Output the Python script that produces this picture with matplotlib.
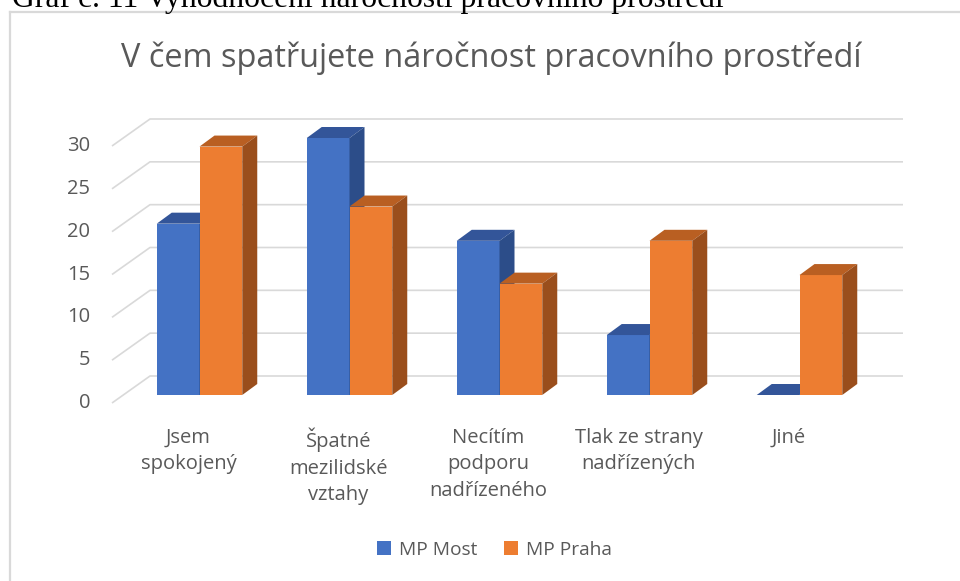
import matplotlib.pyplot as plt
from matplotlib.patches import Polygon
from matplotlib.lines import Line2D

categories = ['Jsem\nspokojený', 'Špatné\nmezilidské\nvztahy', 'Necítím\npodporu\nnadřízeného',
              'Tlak ze strany\nnadřízených', 'Jiné']
mp_most = [20, 30, 18, 7, 0]
mp_praha = [29, 22, 13, 18, 14]
series_names = ['MP Most', 'MP Praha']
yticks = [0, 5, 10, 15, 20, 25, 30]

title = 'V čem spatřujete náročnost pracovního prostředí'
caption = 'Graf č. 11 Vyhodnocení náročnosti pracovního prostředí'

plt.rcParams['font.family'] = ['Open Sans', 'DejaVu Sans']
W, H, DPI = 960, 581, 100
fig = plt.figure(figsize=(W / DPI, H / DPI), dpi=DPI)
ax = fig.add_axes([0, 0, 1, 1])

# pixel scale of the oblique view
px_x = 150.0        # px per category
px_y = 257 / 30     # px per value unit
x0_px, y0_px = 199.5, 395
ax.set_xlim(-x0_px / px_x, (W - x0_px) / px_x)
ax.set_ylim(-(H - y0_px) / px_y, y0_px / px_y)
ax.axis('off')

w = 0.285
ddx, ddy = 15 / px_x, 11 / px_y        # bar depth
fdx, fdy = -11 / px_x, -8 / px_y       # front plane (labels)
bdx, bdy = 27 / px_x, 19 / px_y        # back wall
xl, xr = -0.51, 4.51

grid_c = '#d9d9d9'
txt_c = '#595959'
for v in yticks:
    ax.plot([xl + fdx, xl + bdx, xr + bdx], [v + fdy, v + bdy, v + bdy],
            color=grid_c, lw=1.2, zorder=1, solid_capstyle='butt')
    ax.text(xl + fdx - 22 / px_x, v + fdy, str(v), ha='right', va='center',
            fontsize=14.5, color=txt_c)

colors = [('#4472c4', '#335599', '#2c4d89'), ('#ed7d31', '#b95f22', '#9a4e1c')]
handles = []
for j, (vals, name) in enumerate(zip([mp_most, mp_praha], series_names)):
    front, top, side = colors[j]
    lefts = [i - w + j * w for i in range(len(vals))]
    z = 3 + j * 3
    b = ax.bar(lefts, vals, width=w, align='edge', color=front, lw=0, zorder=z, label=name)
    handles.append(b)
    for x, h in zip(lefts, vals):
        ax.add_patch(Polygon([(x, h), (x + ddx, h + ddy), (x + w + ddx, h + ddy), (x + w, h)],
                             closed=True, fc=top, lw=0, zorder=z + 1))
        ax.add_patch(Polygon([(x + w, 0), (x + w + ddx, ddy), (x + w + ddx, h + ddy), (x + w, h)],
                             closed=True, fc=side, lw=0, zorder=z + 1))

for i, lab in enumerate(categories):
    ax.text(i + fdx, -3.85, lab, ha='center', va='top', fontsize=14.5, color=txt_c,
            linespacing=1.42)

fig.text(0.512, 1 - 58 / H, title, ha='center', va='center', fontsize=23.4, color=txt_c)
fig.text(12 / W, 1 - 7 / H, caption, family='Liberation Serif', fontsize=22.8,
         va='baseline', color='black')

fig.add_artist(Line2D([10 / W, 10 / W], [0, 1 - 12 / H], color=grid_c, lw=1.6))
fig.add_artist(Line2D([10 / W, 1], [1 - 12 / H, 1 - 12 / H], color=grid_c, lw=1.6))

fig.legend(handles=handles, loc='center', bbox_to_anchor=(0.515, 1 - 550 / H), ncol=2,
           frameon=False, fontsize=13.8, handlelength=0.75, handleheight=0.75,
           handletextpad=0.4, columnspacing=1.4, labelcolor=txt_c)

fig.savefig('out.png', dpi=DPI)
